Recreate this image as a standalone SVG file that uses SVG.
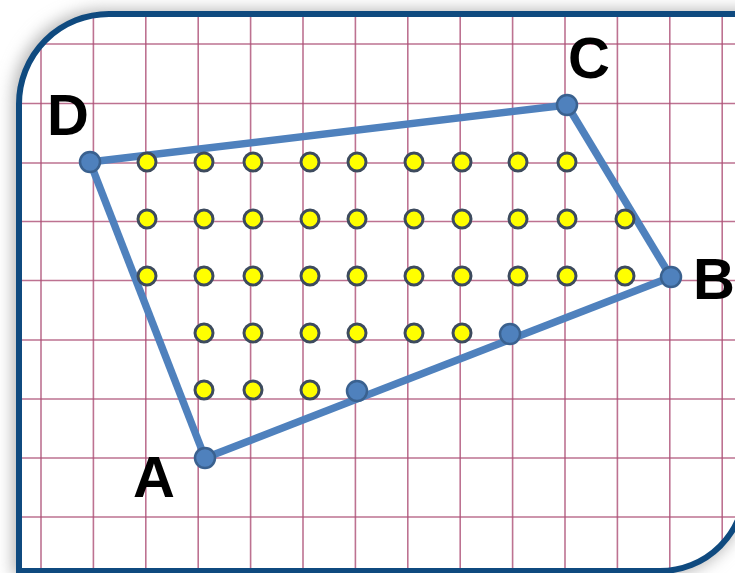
<svg xmlns="http://www.w3.org/2000/svg" width="735" height="573" viewBox="0 0 735 573">
  <defs>
    <filter id="shadow" x="-20%" y="-20%" width="140%" height="140%">
      <feGaussianBlur stdDeviation="8"/>
    </filter>
    <clipPath id="inner">
      <path d="M19,104 A90,90 0 0 1 109,14 L760,14 L760,400 L745,486 A85,85 0 0 1 660,571 L19,571 Z"/>
    </clipPath>
    <style>
      .grid line { stroke: #ad4f76; stroke-width: 1.6; stroke-opacity: 0.8; }
      .edge { fill: none; stroke: #4f81bd; stroke-width: 7.5; stroke-linejoin: round; }
      .yd { fill: #ffff00; stroke: #3d4b5e; stroke-width: 3; }
      .vx { fill: #4f81bd; stroke: #3a618f; stroke-width: 2.5; }
      .lbl { font-family: "Liberation Sans", Arial, sans-serif; font-weight: bold; font-size: 58px; fill: #000; text-anchor: middle; }
    </style>
  </defs>

  <rect x="0" y="0" width="735" height="573" fill="#ffffff"/>
  <!-- shadow -->
  <path d="M13,101 A90,90 0 0 1 103,10 L760,10 L760,400 L745,486 A85,85 0 0 1 660,576 L13,576 Z" fill="#b4b4b4" filter="url(#shadow)"/>
  <!-- frame interior -->
  <path d="M19,104 A90,90 0 0 1 109,14 L760,14 L760,400 L745,486 A85,85 0 0 1 660,571 L19,571 Z" fill="#ffffff"/>

  <!-- grid -->
  <g class="grid" clip-path="url(#inner)">
    <line x1="41" y1="0" x2="41" y2="573"/>
    <line x1="93.4" y1="0" x2="93.4" y2="573"/>
    <line x1="145.8" y1="0" x2="145.8" y2="573"/>
    <line x1="198.2" y1="0" x2="198.2" y2="573"/>
    <line x1="250.6" y1="0" x2="250.6" y2="573"/>
    <line x1="303" y1="0" x2="303" y2="573"/>
    <line x1="355.4" y1="0" x2="355.4" y2="573"/>
    <line x1="407.8" y1="0" x2="407.8" y2="573"/>
    <line x1="460.2" y1="0" x2="460.2" y2="573"/>
    <line x1="512.6" y1="0" x2="512.6" y2="573"/>
    <line x1="565" y1="0" x2="565" y2="573"/>
    <line x1="617.4" y1="0" x2="617.4" y2="573"/>
    <line x1="669.8" y1="0" x2="669.8" y2="573"/>
    <line x1="722.2" y1="0" x2="722.2" y2="573"/>
    <line x1="0" y1="44" x2="735" y2="44"/>
    <line x1="0" y1="103.5" x2="735" y2="103.5"/>
    <line x1="0" y1="163" x2="735" y2="163"/>
    <line x1="0" y1="221.5" x2="735" y2="221.5"/>
    <line x1="0" y1="280.5" x2="735" y2="280.5"/>
    <line x1="0" y1="340" x2="735" y2="340"/>
    <line x1="0" y1="399" x2="735" y2="399"/>
    <line x1="0" y1="458" x2="735" y2="458"/>
    <line x1="0" y1="517" x2="735" y2="517"/>
  </g>

  <!-- frame border -->
  <path d="M19,104 A90,90 0 0 1 109,14 L760,14 L760,400 L745,486 A85,85 0 0 1 660,571 L19,571 Z" fill="none" stroke="#0f4a7f" stroke-width="6"/>

  <!-- connectors: quadrilateral edges -->
  <g id="connectors">
    <line class="edge" x1="90" y1="162" x2="567" y2="105"/>
    <line class="edge" x1="567" y1="105" x2="671" y2="277"/>
    <line class="edge" x1="671" y1="277" x2="205" y2="458"/>
    <line class="edge" x1="205" y1="458" x2="90" y2="162"/>
  </g>

  <!-- interior lattice points -->
  <g id="interior-points">
    <circle class="yd" cx="147" cy="162" r="9"/>
    <circle class="yd" cx="204" cy="162" r="9"/>
    <circle class="yd" cx="253" cy="162" r="9"/>
    <circle class="yd" cx="310" cy="162" r="9"/>
    <circle class="yd" cx="357" cy="162" r="9"/>
    <circle class="yd" cx="414" cy="162" r="9"/>
    <circle class="yd" cx="462" cy="162" r="9"/>
    <circle class="yd" cx="518" cy="162" r="9"/>
    <circle class="yd" cx="567" cy="162" r="9"/>

    <circle class="yd" cx="147" cy="219" r="9"/>
    <circle class="yd" cx="204" cy="219" r="9"/>
    <circle class="yd" cx="253" cy="219" r="9"/>
    <circle class="yd" cx="310" cy="219" r="9"/>
    <circle class="yd" cx="357" cy="219" r="9"/>
    <circle class="yd" cx="414" cy="219" r="9"/>
    <circle class="yd" cx="462" cy="219" r="9"/>
    <circle class="yd" cx="518" cy="219" r="9"/>
    <circle class="yd" cx="567" cy="219" r="9"/>
    <circle class="yd" cx="625" cy="219" r="9"/>

    <circle class="yd" cx="147" cy="276" r="9"/>
    <circle class="yd" cx="204" cy="276" r="9"/>
    <circle class="yd" cx="253" cy="276" r="9"/>
    <circle class="yd" cx="310" cy="276" r="9"/>
    <circle class="yd" cx="357" cy="276" r="9"/>
    <circle class="yd" cx="414" cy="276" r="9"/>
    <circle class="yd" cx="462" cy="276" r="9"/>
    <circle class="yd" cx="518" cy="276" r="9"/>
    <circle class="yd" cx="567" cy="276" r="9"/>
    <circle class="yd" cx="625" cy="276" r="9"/>

    <circle class="yd" cx="204" cy="333" r="9"/>
    <circle class="yd" cx="253" cy="333" r="9"/>
    <circle class="yd" cx="310" cy="333" r="9"/>
    <circle class="yd" cx="357" cy="333" r="9"/>
    <circle class="yd" cx="414" cy="333" r="9"/>
    <circle class="yd" cx="462" cy="333" r="9"/>

    <circle class="yd" cx="204" cy="390" r="9"/>
    <circle class="yd" cx="253" cy="390" r="9"/>
    <circle class="yd" cx="310" cy="390" r="9"/>
  </g>

  <!-- boundary points -->
  <g id="boundary-points">
    <circle class="vx" cx="510" cy="334" r="10"/>
    <circle class="vx" cx="357" cy="391" r="10"/>
  </g>

  <!-- vertices -->
  <g id="node-D">
    <circle class="vx" cx="90" cy="162" r="10"/>
    <text class="lbl" x="68" y="135">D</text>
  </g>
  <g id="node-C">
    <circle class="vx" cx="567" cy="105" r="10"/>
    <text class="lbl" x="589" y="78">C</text>
  </g>
  <g id="node-B">
    <circle class="vx" cx="671" cy="277" r="10"/>
    <text class="lbl" x="714" y="299">B</text>
  </g>
  <g id="node-A">
    <circle class="vx" cx="205" cy="458" r="10"/>
    <text class="lbl" x="154" y="497">A</text>
  </g>
</svg>
